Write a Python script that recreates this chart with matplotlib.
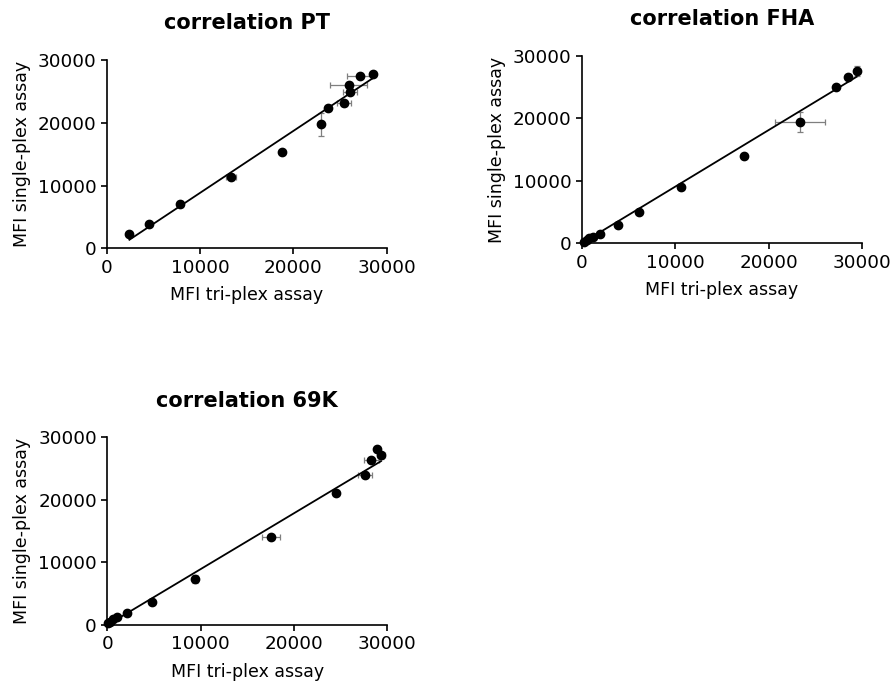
import matplotlib
matplotlib.use("Agg")
import matplotlib.pyplot as plt
import numpy as np

plt.rcParams['font.family'] = ['DejaVu Sans']

# ---- data ----
titles = ["correlation PT", "correlation FHA", "correlation 69K"]
xlabel = "MFI tri-plex assay"
ylabel = "MFI single-plex assay"
ticks = [0, 10000, 20000, 30000]
tick_labels = ["0", "10000", "20000", "30000"]

pt_x = [2430, 4530, 7890, 13320, 18780, 22930, 23680, 25390, 25930, 26070, 27110, 28570]
pt_y = [2230, 3870, 7060, 11410, 15300, 19760, 22410, 23100, 26020, 24960, 27410, 27780]
pt_xerr = [0, 0, 300, 570, 0, 0, 0, 750, 2000, 790, 1340, 0]
pt_yerr = [300, 0, 500, 300, 0, 1830, 0, 400, 500, 400, 0, 0]
pt_fit = [0.987, -1040]

fha_x = [250, 530, 810, 1180, 2000, 3880, 6100, 10620, 17350, 23340, 27150, 28510, 29400]
fha_y = [260, 480, 800, 1060, 1470, 2900, 5060, 9000, 14010, 19450, 24950, 26550, 27560]
fha_xerr = [0, 0, 0, 0, 0, 0, 0, 300, 0, 2710, 0, 0, 0]
fha_yerr = [0, 0, 0, 0, 0, 0, 0, 500, 0, 1600, 0, 300, 800]
fha_fit = [0.906, 0]

k69_x = [100, 290, 640, 1000, 2100, 4800, 9400, 17540, 24500, 27580, 28300, 28860, 29330]
k69_y = [270, 530, 910, 1230, 1900, 3730, 7300, 14110, 21150, 23970, 26300, 28080, 27120]
k69_xerr = [0, 0, 0, 0, 0, 0, 0, 930, 0, 750, 800, 0, 400]
k69_yerr = [0, 0, 0, 0, 0, 0, 650, 0, 0, 0, 0, 400, 600]
k69_fit = [0.893, 0]

panels = [
    (pt_x, pt_y, pt_xerr, pt_yerr, pt_fit),
    (fha_x, fha_y, fha_xerr, fha_yerr, fha_fit),
    (k69_x, k69_y, k69_xerr, k69_yerr, k69_fit),
]

W, H = 893, 688
fig = plt.figure(figsize=(W / 100, H / 100), dpi=100)

# axes boxes in pixels: (left, top, right, bottom)
boxes = [(106.7, 60.0, 386.7, 248.3),
         (581.7, 55.7, 862.3, 243.3),
         (107.3, 437.3, 387.3, 625.0)]

for (l, t, r, b), title, (x, y, xe, ye, fit) in zip(boxes, titles, panels):
    ax = fig.add_axes([l / W, 1 - b / H, (r - l) / W, (b - t) / H])
    x = np.array(x, float); y = np.array(y, float)
    ax.errorbar(x, y, xerr=xe, yerr=ye, fmt='none', ecolor='#7f7f7f',
                elinewidth=0.9, capsize=2.5, capthick=0.9, zorder=2, clip_on=False)
    xs = np.array([x.min(), x.max()])
    ax.plot(xs, fit[0] * xs + fit[1], color='black', lw=1.3, zorder=3, clip_on=False)
    ax.plot(x, y, 'o', color='black', markersize=6, zorder=4, clip_on=False)
    ax.set_xlim(0, 30000)
    ax.set_ylim(0, 30000)
    ax.set_xticks(ticks)
    ax.set_xticklabels(tick_labels)
    ax.set_yticks(ticks)
    ax.set_yticklabels(tick_labels)
    for s in ['top', 'right']:
        ax.spines[s].set_visible(False)
    for s in ['left', 'bottom']:
        ax.spines[s].set_linewidth(1.2)
    ax.tick_params(direction='out', length=4.5, width=1.2, labelsize=13.2, pad=3)
    ax.set_title(title, fontsize=15, fontweight='bold', pad=22)
    ax.set_xlabel(xlabel, fontsize=12.5, labelpad=7)
    ax.set_ylabel(ylabel, fontsize=12.5, labelpad=5)

fig.savefig("out.png", dpi=100)
